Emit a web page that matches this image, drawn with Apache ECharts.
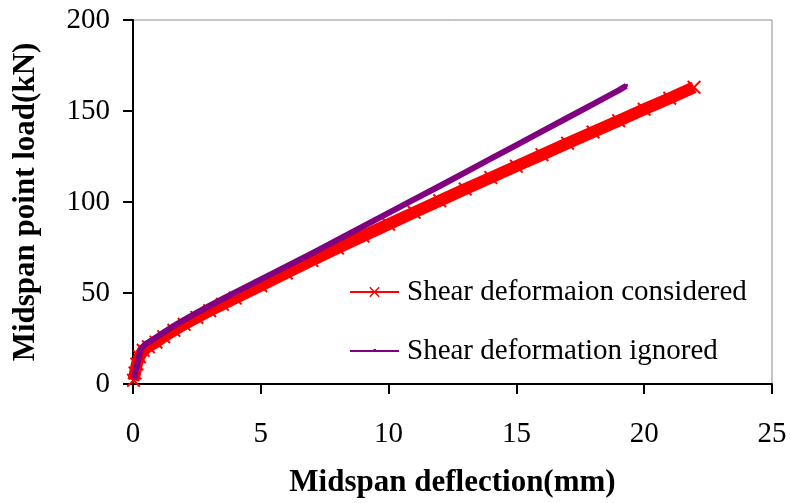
<!DOCTYPE html>
<html>
<head>
<meta charset="utf-8">
<script src="https://cdn.jsdelivr.net/npm/echarts@6/dist/echarts.min.js"></script>
<style>
  html, body { margin: 0; padding: 0; background: #fff; }
  #chart { width: 790px; height: 503px; }
</style>
</head>
<body>
<div id="chart"></div>
<script>
// Load-deflection response of the beam, with and without shear deformation
const deflectionShear = [0.02, 0.08, 0.15, 0.25, 0.4, 0.6, 0.9, 1.2, 1.6, 2, 2.5, 3, 3.5, 4, 5, 6, 7, 8, 9, 10, 11, 12, 13, 14, 15, 16, 17, 18, 19, 20, 21, 21.95];
const loadShear = [2, 6, 11, 15, 18.5, 20.5, 23, 26, 29.5, 32.8, 36.6, 40.3, 43.8, 47.2, 54, 61, 67.9, 74.7, 81.3, 87.8, 94.3, 100.7, 107.1, 113.4, 119.7, 126, 132.3, 138.5, 144.7, 150.9, 157, 163];

const deflectionNoShear = [0.05, 0.1, 0.2, 0.3, 0.45, 0.7, 1, 1.3, 1.6, 2, 2.5, 3, 3.5, 4, 5, 6, 7, 8, 9, 10, 11, 12, 13, 14, 15, 16, 17, 18, 19, 19.3];
const loadNoShear = [3, 7, 13, 19, 21.5, 23.8, 26.5, 29.3, 32, 35.3, 39.2, 43, 46.7, 50.3, 57.5, 64.6, 71.8, 79.2, 86.6, 94, 101.4, 108.8, 116.3, 123.8, 131.3, 138.8, 146.3, 153.8, 161.3, 163.8];

const seriesNames = ['Shear deformaion considered', 'Shear deformation ignored'];
const xTitle = 'Midspan deflection(mm)';
const yTitle = 'Midspan point load(kN)';

const pair = (xs, ys) => xs.map((x, i) => [x, ys[i]]);

const FONT = '"Liberation Serif", "Times New Roman", serif';
// filled "x" cross marker
const crossSymbol = 'path://M0,1 L1,0 L5,4 L9,0 L10,1 L6,5 L10,9 L9,10 L5,6 L1,10 L0,9 L4,5 Z';
// small square marker centred in a larger box
const dashSymbol = 'path://M0,0 M10,10 M4,3 L6.5,3 L6.5,6 L4,6 Z';

const chart = echarts.init(document.getElementById('chart'), null, { renderer: 'canvas' });

chart.setOption({
  animation: false,
  backgroundColor: '#ffffff',
  grid: {
    left: 133, right: 18, top: 20, bottom: 119,
    show: true, borderColor: '#8c8c8c', borderWidth: 1, backgroundColor: 'transparent'
  },
  xAxis: {
    type: 'value', min: 0, max: 25, interval: 5,
    name: xTitle, nameLocation: 'middle', nameGap: 83,
    nameTextStyle: { fontFamily: FONT, fontSize: 31, fontWeight: 'bold', color: '#000' },
    axisLine: { show: true, onZero: false, lineStyle: { color: '#000', width: 2 } },
    axisTick: { show: true, inside: false, length: 10, lineStyle: { color: '#000', width: 2 } },
    axisLabel: { fontFamily: FONT, fontSize: 29, color: '#000', margin: 36 },
    splitLine: { show: false }
  },
  yAxis: {
    type: 'value', min: 0, max: 200, interval: 50,
    name: yTitle, nameLocation: 'middle', nameGap: 92, nameRotate: 90,
    nameTextStyle: { fontFamily: FONT, fontSize: 31, fontWeight: 'bold', color: '#000' },
    axisLine: { show: true, onZero: false, lineStyle: { color: '#000', width: 2 } },
    axisTick: { show: true, inside: false, length: 10, lineStyle: { color: '#000', width: 2 } },
    axisLabel: { fontFamily: FONT, fontSize: 29, color: '#000', margin: 23 },
    splitLine: { show: false }
  },
  legend: {
    orient: 'vertical',
    left: 344, top: 272,
    itemWidth: 49, itemHeight: 13, itemGap: 29,
    lineStyle: { width: 2 },
    textStyle: { fontFamily: FONT, fontSize: 29, color: '#000', lineHeight: 30, padding: [0, 0, 0, 3] },
    data: seriesNames
  },
  series: [
    {
      name: seriesNames[0],
      type: 'line',
      data: pair(deflectionShear, loadShear),
      color: '#ff0000',
      lineStyle: { color: '#ff0000', width: 12 },
      symbol: crossSymbol,
      symbolSize: 14,
      showSymbol: true,
      itemStyle: { color: '#ff0000' },
      z: 2
    },
    {
      name: seriesNames[1],
      type: 'line',
      data: pair(deflectionNoShear, loadNoShear),
      color: '#800080',
      lineStyle: { color: '#800080', width: 6 },
      symbol: dashSymbol,
      symbolSize: 10,
      showSymbol: true,
      itemStyle: { color: '#800080' },
      z: 3
    }
  ]
});
</script>
</body>
</html>
